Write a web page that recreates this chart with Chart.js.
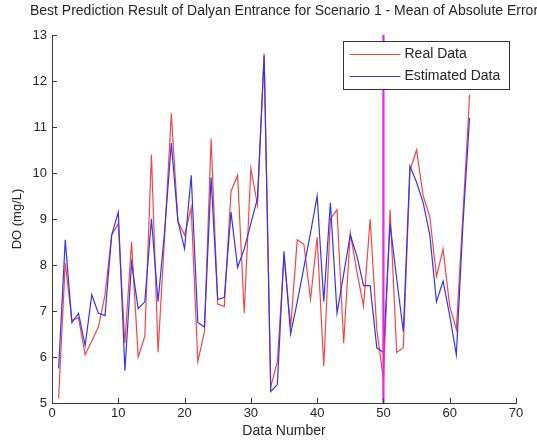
<!DOCTYPE html>
<html>
<head>
<meta charset="utf-8">
<title>Dalyan Entrance - DO prediction</title>
<script src="https://cdn.jsdelivr.net/npm/chart.js@4.4.0/dist/chart.umd.min.js"></script>
<style>
  html, body { margin: 0; padding: 0; background: #fff; }
  #wrap { width: 537px; height: 441px; position: relative; }
</style>
</head>
<body>
<div id="wrap"><canvas id="doChart"></canvas></div>
<script>
// Measured vs. estimated dissolved oxygen, one value per sample
const dataNumber = [
  1, 2, 3, 4, 5, 6, 7, 8, 9, 10, 11, 12, 13, 14, 15, 16, 17, 18, 19, 20, 21,
  22, 23, 24, 25, 26, 27, 28, 29, 30, 31, 32, 33, 34, 35, 36, 37, 38, 39, 40, 41, 42,
  43, 44, 45, 46, 47, 48, 49, 50, 51, 52, 53, 54, 55, 56, 57, 58, 59, 60, 61, 62, 63
];
const realData = [
  5.1, 8.05, 6.8, 6.85, 6.05, 6.35, 6.65, 7.35, 8.65, 8.9, 6.3, 8.5, 6.0, 6.45, 10.4, 6.1, 8.65, 11.3, 8.95, 8.65, 9.25,
  5.9, 6.55, 10.75, 7.15, 7.1, 9.6, 9.95, 6.95, 10.1, 9.3, 12.6, 5.35, 5.9, 8.2, 6.65, 8.55, 8.45, 7.25, 8.6, 5.8, 9.0,
  9.2, 6.3, 8.7, 7.85, 7.1, 9.0, 6.6, 5.5, 9.2, 6.1, 6.2, 10.05, 10.5, 9.5, 9.05, 7.75, 8.35, 7.1, 6.6, 9.1, 11.7
];
const estimatedData = [
  5.75, 8.55, 6.75, 6.95, 6.25, 7.35, 6.95, 6.9, 8.65, 9.15, 5.7, 8.05, 7.05, 7.2, 9.0, 7.2, 8.75, 10.65, 8.95, 8.35, 9.95,
  6.75, 6.65, 9.9, 7.25, 7.3, 9.15, 7.95, 8.35, 8.9, 9.45, 12.55, 5.25, 5.4, 8.3, 6.5, 7.2, 7.95, 8.7, 9.5, 7.2, 9.35,
  6.95, 7.8, 8.65, 8.2, 7.55, 7.55, 6.2, 6.1, 8.9, 7.7, 6.55, 10.15, 9.8, 9.35, 8.65, 7.2, 7.65, 6.9, 6.05, 8.9, 11.2
];
// Training / test split marker
const splitAt = 50;
const xTicks = [0, 10, 20, 30, 40, 50, 60, 70];
const yTicks = [5, 6, 7, 8, 9, 10, 11, 12, 13];

const titleText = 'Best Prediction Result of Dalyan Entrance for Scenario 1 - Mean of Absolute Error';
const textColor = '#262626';
const axisColor = '#3a3a3a';
const fontFamily = "'Liberation Sans', Arial, sans-serif";

const toPoints = (ys) => dataNumber.map((n, i) => ({ x: n, y: ys[i] }));

// Title, inward tick marks and boxed legend, drawn after the chart
const matlabDecor = {
  id: 'matlabDecor',
  afterDraw(chart) {
    const { ctx, chartArea, scales } = chart;
    const xs = scales.x;
    const ys = scales.y;
    ctx.save();

    // title
    ctx.fillStyle = textColor;
    ctx.font = '14px ' + fontFamily;
    ctx.textAlign = 'center';
    ctx.textBaseline = 'middle';
    ctx.fillText(titleText, (chartArea.left + chartArea.right) / 2, 11);

    // inward ticks
    ctx.strokeStyle = axisColor;
    ctx.lineWidth = 1;
    ctx.beginPath();
    xTicks.forEach(v => {
      const px = Math.round(xs.getPixelForValue(v)) + 0.5;
      ctx.moveTo(px, chartArea.bottom);
      ctx.lineTo(px, chartArea.bottom - 5);
    });
    yTicks.forEach(v => {
      const py = Math.round(ys.getPixelForValue(v)) + 0.5;
      ctx.moveTo(chartArea.left, py);
      ctx.lineTo(chartArea.left + 5, py);
    });
    ctx.stroke();

    // legend box
    const entries = chart.data.datasets.filter(d => d.inLegend);
    const box = { x: 343.5, y: 41.5, w: 166, h: 48 };
    ctx.fillStyle = '#fff';
    ctx.fillRect(box.x, box.y, box.w, box.h);
    ctx.strokeStyle = '#333';
    ctx.strokeRect(box.x, box.y, box.w, box.h);
    ctx.font = '14px ' + fontFamily;
    ctx.textAlign = 'left';
    entries.forEach((d, i) => {
      const rowY = box.y + 13 + i * 22;
      ctx.strokeStyle = d.borderColor;
      ctx.lineWidth = 1.2;
      ctx.beginPath();
      ctx.moveTo(box.x + 6, rowY);
      ctx.lineTo(box.x + 57, rowY);
      ctx.stroke();
      ctx.fillStyle = textColor;
      ctx.fillText(d.label, box.x + 61, rowY);
    });

    ctx.restore();
  }
};

const ctx = document.getElementById('doChart').getContext('2d');

new Chart(ctx, {
  type: 'line',
  data: {
    datasets: [
      {
        label: 'Split',
        data: [{ x: splitAt, y: yTicks[0] }, { x: splitAt, y: yTicks[yTicks.length - 1] }],
        borderColor: '#f020f0',
        borderWidth: 2.2,
        pointRadius: 0,
        order: 0
      },
      {
        label: 'Real Data',
        inLegend: true,
        data: toPoints(realData),
        borderColor: '#f24848',
        borderWidth: 1.2,
        pointRadius: 0,
        tension: 0,
        order: 2
      },
      {
        label: 'Estimated Data',
        inLegend: true,
        data: toPoints(estimatedData),
        borderColor: '#3535f0',
        borderWidth: 1.2,
        pointRadius: 0,
        tension: 0,
        order: 1
      }
    ]
  },
  options: {
    responsive: true,
    maintainAspectRatio: false,
    animation: false,
    layout: { padding: { top: 35, right: 21, left: 0, bottom: 0 } },
    plugins: {
      legend: { display: false },
      tooltip: { enabled: false }
    },
    scales: {
      x: {
        type: 'linear',
        min: 0,
        max: 70,
        afterFit: (scale) => { scale.height = 38; },
        afterBuildTicks: (scale) => { scale.ticks = xTicks.map(v => ({ value: v })); },
        grid: { display: false, drawTicks: false },
        border: { display: true, color: axisColor, width: 1 },
        ticks: {
          color: textColor,
          padding: 3,
          maxRotation: 0,
          font: { family: fontFamily, size: 13 }
        },
        title: {
          display: true,
          text: 'Data Number',
          color: textColor,
          padding: { top: 0, bottom: 1 },
          font: { family: fontFamily, size: 14 }
        }
      },
      y: {
        min: 5,
        max: 13,
        afterFit: (scale) => { scale.width = 52; },
        afterBuildTicks: (scale) => { scale.ticks = yTicks.map(v => ({ value: v })); },
        grid: { display: false, drawTicks: false },
        border: { display: true, color: axisColor, width: 1 },
        ticks: {
          color: textColor,
          padding: 5,
          font: { family: fontFamily, size: 13 }
        },
        title: {
          display: true,
          text: 'DO (mg/L)',
          color: textColor,
          padding: { top: 10, bottom: 0 },
          font: { family: fontFamily, size: 13 }
        }
      }
    }
  },
  plugins: [matlabDecor]
});
</script>
</body>
</html>
